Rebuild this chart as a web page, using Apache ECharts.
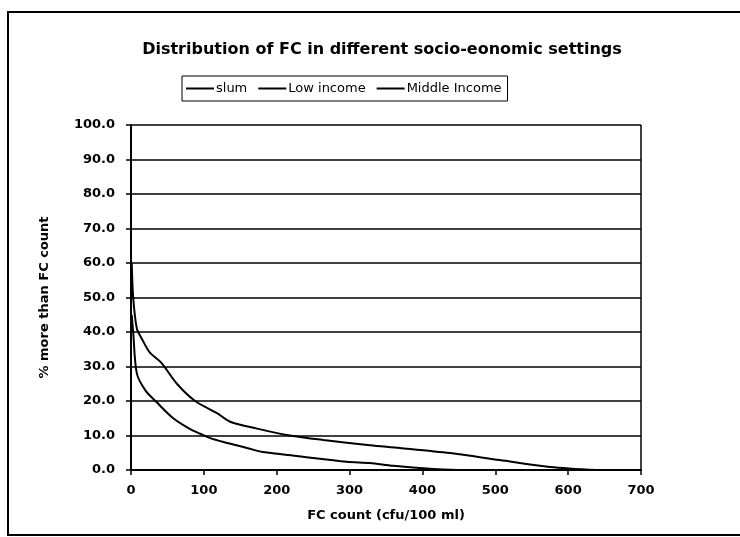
<!DOCTYPE html>
<html>
<head>
<meta charset="utf-8">
<script src="https://cdn.jsdelivr.net/npm/echarts@6/dist/echarts.min.js"></script>
<style>
  html, body { margin: 0; padding: 0; background: #fff; }
  #main { width: 740px; height: 537px; }
</style>
</head>
<body>
<div id="main"></div>
<script>
// values
var seriesNames = ['slum', 'Low income', 'Middle Income'];
var slum = [[1, 60], [3, 50], [8, 41], [15, 38], [26, 34], [42, 31], [63, 25], [88, 20], [118, 16.5],
  [136, 14], [173, 12], [218, 10], [264, 8.7], [328, 7.2], [369, 6.4], [438, 4.9], [506, 2.9], [575, 0.9], [640, 0]];
var lowIncome = [[1, 45], [3, 40], [8, 28], [20, 23], [35, 19.7], [58, 15], [80, 12], [95, 10.5], [108, 9.3],
  [127, 8.1], [159, 6.4], [181, 5.2], [230, 4.0], [296, 2.4], [328, 2], [360, 1.2], [415, 0.3], [450, 0]];
var middleIncome = [];

var font = 'DejaVu Sans, Verdana, sans-serif';
var myChart = echarts.init(document.getElementById('main'));

var option = {
  backgroundColor: '#fff',
  animation: false,
  title: {
    text: 'Distribution of FC in different socio-eonomic settings',
    left: 377, top: 37, textAlign: 'center',
    textStyle: { fontFamily: font, fontSize: 16, fontWeight: 'bold', color: '#000' }
  },
  legend: {
    data: seriesNames,
    left: 182, top: 76,
    borderColor: '#000', borderWidth: 1,
    padding: [6, 6, 6, 4],
    itemWidth: 28, itemHeight: 2, itemGap: 11,
    icon: 'rect',
    textStyle: { fontFamily: font, fontSize: 13, color: '#000', padding: [0, 0, 0, -3] }
  },
  grid: { left: 131, right: 99, top: 125, bottom: 67 },
  xAxis: {
    type: 'value', min: 0, max: 700, interval: 100,
    name: 'FC count (cfu/100 ml)', nameLocation: 'middle', nameGap: 39,
    nameTextStyle: { fontFamily: font, fontSize: 13, fontWeight: 'bold', color: '#000' },
    axisLine: { show: true, lineStyle: { color: '#000', width: 2 } },
    axisTick: { show: true, length: 5, lineStyle: { color: '#000', width: 1.5 } },
    axisLabel: { fontFamily: font, fontSize: 13, fontWeight: 'bold', color: '#000', margin: 14 },
    splitLine: { show: false }
  },
  yAxis: {
    type: 'value', min: 0, max: 100, interval: 10,
    name: '% more than FC count', nameLocation: 'middle', nameGap: 80, nameRotate: 90,
    nameTextStyle: { fontFamily: font, fontSize: 13, fontWeight: 'bold', color: '#000' },
    axisLine: { show: true, lineStyle: { color: '#000', width: 2 } },
    axisTick: { show: true, length: 5, lineStyle: { color: '#000', width: 1.5 } },
    axisLabel: {
      fontFamily: font, fontSize: 13, fontWeight: 'bold', color: '#000', margin: 16,
      formatter: function (v) { return v.toFixed(1); }
    },
    splitLine: { show: true, lineStyle: { color: '#000', width: 1.5 } }
  },
  graphic: [
    { type: 'rect', shape: { x: 8, y: 12, width: 760, height: 523 },
      style: { fill: null, stroke: '#000', lineWidth: 2 }, silent: true },
    // right border of plot area
    { type: 'line', shape: { x1: 641, y1: 125, x2: 641, y2: 470 },
      style: { stroke: '#000', lineWidth: 1.5 }, silent: true }
  ],
  series: [
    { name: 'slum', type: 'line', data: slum, showSymbol: false, smooth: 0.3,
      lineStyle: { color: '#000', width: 2 }, itemStyle: { color: '#000' } },
    { name: 'Low income', type: 'line', data: lowIncome, showSymbol: false, smooth: 0.3,
      lineStyle: { color: '#000', width: 2 }, itemStyle: { color: '#000' } },
    { name: 'Middle Income', type: 'line', data: middleIncome, showSymbol: false,
      lineStyle: { color: '#000', width: 2 }, itemStyle: { color: '#000' } }
  ]
};
myChart.setOption(option);
</script>
</body>
</html>
